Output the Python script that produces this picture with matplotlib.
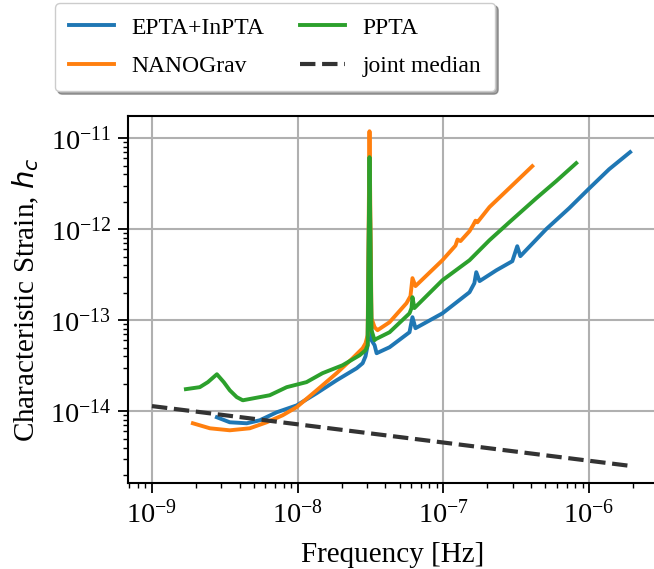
import numpy as np
import matplotlib
matplotlib.use('Agg')
import matplotlib.pyplot as plt

plt.rcParams['font.family'] = ['Liberation Serif', 'DejaVu Serif']

# EPTA+InPTA
epta_f = [2.79e-9, 3.42e-9, 4.47e-9, 5.49e-9, 7.18e-9, 9.84e-9, 1.35e-8, 1.85e-8,
          2.54e-8, 2.79e-8, 2.92e-8, 3.02e-8, 3.11e-8, 3.21e-8, 3.37e-8, 3.48e-8,
          4.27e-8, 5.85e-8, 6.13e-8, 6.43e-8, 9.84e-8, 1.51e-7, 1.63e-7, 1.68e-7,
          1.77e-7, 2.31e-7, 2.97e-7, 3.21e-7, 3.37e-7, 5.07e-7, 7.29e-7, 1.00e-6,
          1.37e-6, 1.91e-6]
epta_h = [8.59e-15, 7.57e-15, 7.38e-15, 7.96e-15, 9.75e-15, 1.16e-14, 1.58e-14, 2.19e-14,
          2.97e-14, 3.37e-14, 4.02e-14, 5.31e-14, 4.45e-12, 6.03e-14, 5.31e-14, 4.34e-14,
          5.05e-14, 7.38e-14, 1.08e-13, 8.17e-14, 1.19e-13, 2.03e-13, 2.55e-13, 3.37e-13,
          2.69e-13, 3.54e-13, 4.45e-13, 6.50e-13, 5.05e-13, 1.00e-12, 1.70e-12, 2.80e-12,
          4.55e-12, 7.02e-12]

# NANOGrav
nano_f = [1.91e-9, 2.50e-9, 3.42e-9, 4.69e-9, 6.13e-9, 7.89e-9, 9.84e-9, 1.35e-8,
          1.85e-8, 2.38e-8, 2.79e-8, 2.92e-8, 3.02e-8, 3.11e-8, 3.21e-8, 3.37e-8,
          3.53e-8, 4.27e-8, 5.58e-8, 5.94e-8, 6.13e-8, 6.43e-8, 9.84e-8, 1.21e-7,
          1.25e-7, 1.31e-7, 1.51e-7, 1.60e-7, 1.66e-7, 1.71e-7, 2.07e-7, 2.83e-7,
          4.07e-7]
nano_h = [7.38e-15, 6.50e-15, 6.18e-15, 6.50e-15, 7.57e-15, 9.04e-15, 1.11e-14, 1.70e-14,
          2.62e-14, 3.82e-14, 4.92e-14, 5.58e-14, 6.84e-14, 1.19e-11, 1.05e-13, 8.38e-14,
          7.77e-14, 9.51e-14, 1.54e-13, 1.84e-13, 2.90e-13, 2.37e-13, 4.56e-13, 6.60e-13,
          7.70e-13, 7.40e-13, 9.51e-13, 1.11e-12, 1.24e-12, 1.19e-12, 1.75e-12, 2.82e-12,
          4.92e-12]

# PPTA
ppta_f = [1.71e-9, 2.13e-9, 2.42e-9, 2.79e-9, 3.11e-9, 3.42e-9, 3.82e-9, 4.20e-9,
          5.49e-9, 6.43e-9, 8.41e-9, 1.15e-8, 1.48e-8, 2.03e-8, 2.66e-8, 2.92e-8,
          3.02e-8, 3.11e-8, 3.21e-8, 3.37e-8, 3.42e-8, 4.27e-8, 5.85e-8, 6.04e-8,
          6.13e-8, 6.32e-8, 9.84e-8, 1.51e-7, 2.07e-7, 2.83e-7, 4.34e-7, 5.94e-7,
          8.15e-7]
ppta_h = [1.75e-14, 1.84e-14, 2.09e-14, 2.55e-14, 2.09e-14, 1.70e-14, 1.43e-14, 1.32e-14,
          1.43e-14, 1.50e-14, 1.84e-14, 2.09e-14, 2.62e-14, 3.20e-14, 4.12e-14, 4.68e-14,
          5.31e-14, 6.18e-12, 7.77e-14, 6.03e-14, 6.18e-14, 7.38e-14, 1.19e-13, 1.36e-13,
          1.79e-13, 1.36e-13, 2.75e-13, 4.56e-13, 7.57e-13, 1.19e-12, 2.19e-12, 3.37e-12,
          5.31e-12]

# joint median
median_f = [1e-9, 2e-6]
median_h = [1.14e-14, 2.49e-15]

x_ticks = [1e-9, 1e-8, 1e-7, 1e-6]
y_ticks = [1e-14, 1e-13, 1e-12, 1e-11]

fig = plt.figure(figsize=(6.54, 5.69), dpi=100)
ax = fig.add_axes([128 / 654, 86 / 569, 529 / 654, 367 / 569])

lw = 2.8
ax.loglog(epta_f, epta_h, color='#1f77b4', lw=lw, label='EPTA+InPTA')
ax.loglog(nano_f, nano_h, color='#ff7f0e', lw=lw, label='NANOGrav')
ax.loglog(ppta_f, ppta_h, color='#2ca02c', lw=lw, label='PPTA')
ax.loglog(median_f, median_h, color='#333333', lw=3, ls='--', label='joint median')

ax.set_xlim(6.85e-10, 2.92e-6)
ax.set_ylim(1.63e-15, 1.75e-11)
ax.set_xticks(x_ticks)
ax.set_yticks(y_ticks)
ax.grid(True, which='major', color='#b0b0b0', lw=1.5)
ax.set_axisbelow(True)

for s in ax.spines.values():
    s.set_linewidth(1.5)
ax.tick_params(which='major', length=7, width=1.3, labelsize=20.5, pad=5)
ax.tick_params(which='minor', length=3.5, width=1.0, labelleft=False, labelbottom=False)

ax.set_xlabel('Frequency [Hz]', fontsize=21, labelpad=10)
ax.set_ylabel('Characteristic Strain, $h_c$', fontsize=21, labelpad=6)

fig.legend(loc='upper left', bbox_to_anchor=(55 / 654, 1 - 3 / 569), ncol=2,
           fontsize=17, handlelength=1.9, handletextpad=0.75, labelspacing=0.72,
           columnspacing=1.5, borderpad=0.6, fancybox=True, shadow=True,
           framealpha=1, edgecolor='#cccccc', borderaxespad=0)

fig.savefig('out.png', dpi=100)
